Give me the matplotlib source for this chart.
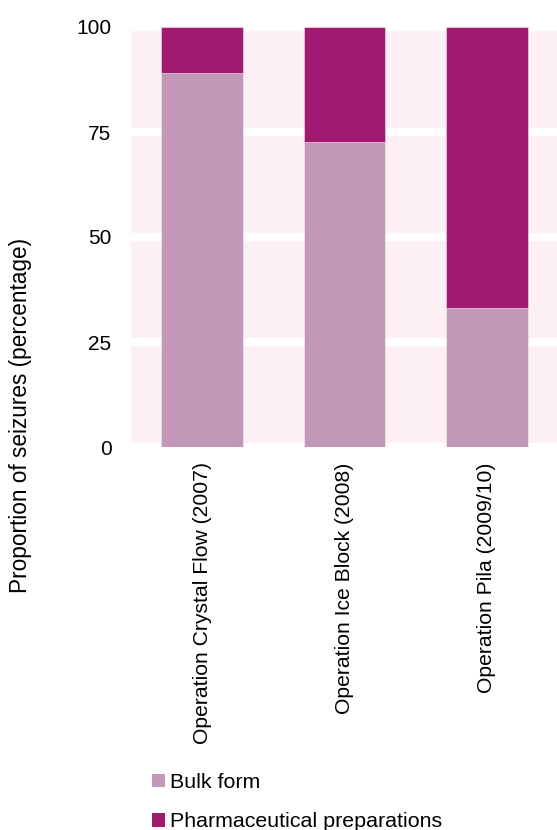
import matplotlib
matplotlib.use("Agg")
import matplotlib.pyplot as plt
from matplotlib.patches import Patch

plt.rcParams['font.family'] = ['Liberation Sans', 'DejaVu Sans']

operations = ["Operation Crystal Flow (2007)", "Operation Ice Block (2008)", "Operation Pila (2009/10)"]
bulk_form = [89, 72.5, 33]
pharmaceutical = [11, 27.5, 67]
y_ticks = [0, 25, 50, 75, 100]

bulk_color = "#C397B8"
pharma_color = "#A11A72"
panel_color = "#FDF0F5"

fig = plt.figure(figsize=(5.57, 8.30), dpi=100)
W, H = 557, 830
ax = fig.add_axes([131 / W, 1 - 447 / H, (558 - 131) / W, (447 - 27) / H])
ax.set_facecolor(panel_color)

x = range(len(operations))
ax.bar(x, bulk_form, width=0.575, color=bulk_color, edgecolor=(1, 1, 1, 0.5), linewidth=0.6, zorder=3)
ax.bar(x, pharmaceutical, bottom=bulk_form, width=0.575, color=pharma_color,
       edgecolor=(1, 1, 1, 0.5), linewidth=0.6, zorder=3)

ax.set_xlim(-0.5, 2.5)
ax.set_ylim(0, 100)
ax.set_yticks(y_ticks)
ax.set_yticklabels([str(t) for t in y_ticks], fontsize=15)
ax.yaxis.grid(True, color="white", linewidth=6, zorder=1)
ax.set_axisbelow(True)
ax.set_xticks(list(x))
ax.set_xticklabels(operations, rotation=90, fontsize=15.2, va="top", ha="center")
ax.tick_params(axis="x", length=0, pad=11)
ax.tick_params(axis="y", length=0, pad=14)
for s in ax.spines.values():
    s.set_visible(False)

# y-axis title centred on the full figure height
fig.text(21 / W, 0.5, "Proportion of seizures (percentage)", rotation=90,
         fontsize=16.3, ha="center", va="center")

handles = [Patch(facecolor=bulk_color, label="Bulk form"),
           Patch(facecolor=pharma_color, label="Pharmaceutical preparations")]
fig.legend(handles=handles, loc="upper left", bbox_to_anchor=(152 / W, 1 - 773 / H),
           frameon=False, fontsize=15.4, handlelength=0.6, handleheight=0.6,
           handletextpad=0.22, labelspacing=0.95, borderaxespad=0, borderpad=0)

fig.savefig("out.png", dpi=100)
